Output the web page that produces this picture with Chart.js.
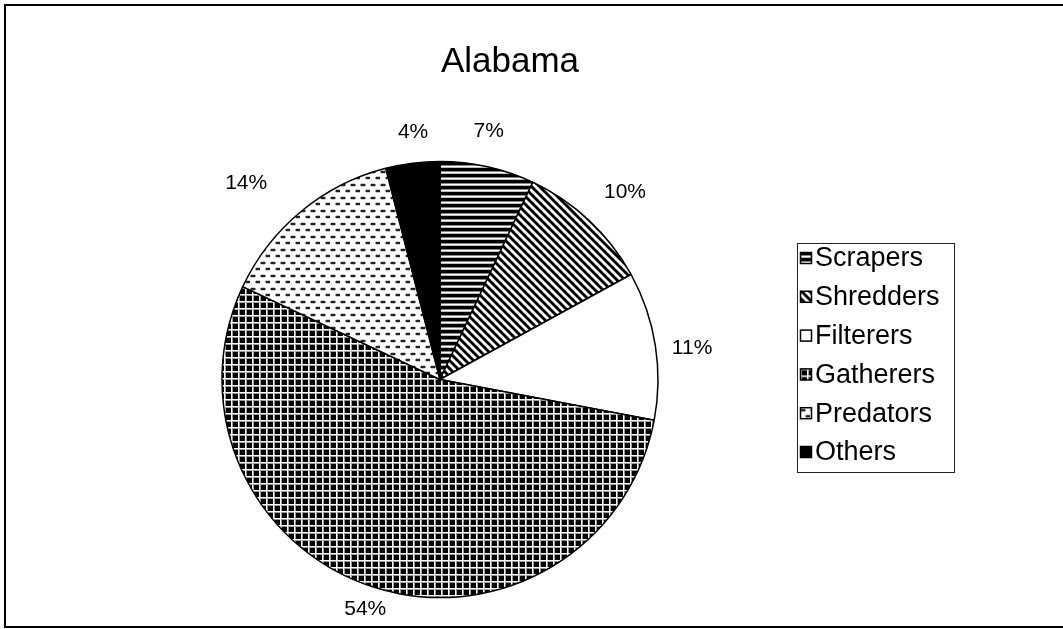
<!DOCTYPE html>
<html>
<head>
<meta charset="utf-8">
<title>Alabama</title>
<script src="https://cdn.jsdelivr.net/npm/chart.js@4.4.1/dist/chart.umd.min.js"></script>
<style>
  html, body { margin: 0; padding: 0; background: #fff; }
  #wrap { position: relative; width: 1063px; height: 629px; overflow: hidden; }
  canvas { display: block; }
</style>
</head>
<body>
<div id="wrap"><canvas id="c" width="1063" height="629"></canvas></div>
<script>
// Functional feeding groups, share of individuals (%)
const chartTitle = 'Alabama';
const categories = ['Scrapers', 'Shredders', 'Filterers', 'Gatherers', 'Predators', 'Others'];
const shares = [7, 10, 11, 54, 14, 4];

// ---- monochrome fill patterns ----
function makeTile(w, h, paint) {
  const c = document.createElement('canvas');
  c.width = w; c.height = h;
  const g = c.getContext('2d');
  g.fillStyle = '#fff';
  g.fillRect(0, 0, w, h);
  paint(g, w, h);
  return c;
}
function px(g, x, y, col) { g.fillStyle = col; g.fillRect(x, y, 1, 1); }

const tiles = {
  hstripes: makeTile(1, 6, (g) => {
    g.fillStyle = '#000'; g.fillRect(0, 0, 1, 3);
    px(g, 0, 3, '#888'); px(g, 0, 5, '#bbb');
  }),
  diagonal: makeTile(8, 8, (g, w, h) => {
    for (let y = 0; y < h; y++) for (let x = 0; x < w; x++) {
      const d = ((x - y) % 8 + 8) % 8;
      if (d < 3) px(g, x, y, '#000');
      else if (d === 3 || d === 7) px(g, x, y, '#777');
    }
  }),
  grid: makeTile(7, 7, (g) => {
    g.fillStyle = '#999'; g.fillRect(1, 1, 6, 1); g.fillRect(1, 1, 1, 6);
    g.fillStyle = '#000'; g.fillRect(2, 2, 5, 5);
  }),
  dashes: makeTile(10, 13, (g) => {
    g.fillStyle = '#222'; g.fillRect(1, 2, 4, 2); g.fillRect(6, 8, 4, 2);
    g.fillStyle = '#999'; g.fillRect(0, 2, 1, 2); g.fillRect(5, 2, 1, 2);
    g.fillRect(5, 8, 1, 2);
    g.fillStyle = '#ccc'; g.fillRect(1, 1, 4, 1); g.fillRect(1, 4, 4, 1);
    g.fillRect(6, 7, 4, 1); g.fillRect(6, 10, 4, 1);
  })
};

const ctx = document.getElementById('c').getContext('2d');
const fills = [
  ctx.createPattern(tiles.hstripes, 'repeat'),
  ctx.createPattern(tiles.diagonal, 'repeat'),
  '#ffffff',
  ctx.createPattern(tiles.grid, 'repeat'),
  ctx.createPattern(tiles.dashes, 'repeat'),
  '#000000'
];

const FONT = '"Liberation Sans", Arial, Helvetica, sans-serif';

// Frame, title, outside percentage labels and the boxed legend
const decorations = {
  id: 'decorations',
  afterDraw(chart, args, opts) {
    const g = chart.ctx;
    g.save();
    // outer frame (open on the right)
    g.strokeStyle = '#000';
    g.lineWidth = 2;
    g.beginPath();
    g.moveTo(1070, 5); g.lineTo(5, 5); g.lineTo(5, 627); g.lineTo(1070, 627);
    g.stroke();

    // title
    g.fillStyle = '#000';
    g.font = '35px ' + FONT;
    g.textAlign = 'center';
    g.textBaseline = 'middle';
    g.fillText(chartTitle, 510, 62);

    // percentage labels, placed outside each slice along its bisector
    const meta = chart.getDatasetMeta(0);
    const vals = chart.data.datasets[0].data;
    const total = vals.reduce((a, b) => a + b, 0);
    g.font = '21px ' + FONT;
    meta.data.forEach((arc, i) => {
      const p = arc.getProps(['x', 'y', 'startAngle', 'endAngle', 'outerRadius'], true);
      const mid = (p.startAngle + p.endAngle) / 2 + opts.labelTurn[i] * Math.PI / 180;
      const txt = Math.round(vals[i] / total * 100) + '%';
      const r = p.outerRadius + opts.labelGap[i];
      g.fillText(txt, p.x + Math.cos(mid) * r, p.y + Math.sin(mid) * r);
    });

    // legend
    const lx = 797, ly = 243, lw = 157, lh = 229;
    g.lineWidth = 1;
    g.strokeStyle = '#222';
    g.strokeRect(lx + 0.5, ly + 0.5, lw, lh);
    g.font = '27px ' + FONT;
    g.textAlign = 'left';
    const bg = chart.data.datasets[0].backgroundColor;
    chart.data.labels.forEach((lab, i) => {
      const cy = 258 + i * 38.8;
      const bx = 800, by = cy - 6, bs = 12;
      g.save();
      g.translate(bx, by);
      g.fillStyle = bg[i];
      g.fillRect(0, 0, bs, bs);
      g.strokeStyle = '#000';
      g.lineWidth = 1.5;
      g.strokeRect(0.5, 0.5, bs - 1, bs - 1);
      g.restore();
      g.fillStyle = '#000';
      g.fillText(lab, 815, cy + 1);
    });
    g.restore();
  }
};

new Chart(ctx, {
  type: 'pie',
  data: {
    labels: categories,
    datasets: [{
      data: shares,
      backgroundColor: fills,
      borderColor: '#000',
      borderWidth: 1.5,
      hoverOffset: 0
    }]
  },
  options: {
    responsive: false,
    animation: false,
    devicePixelRatio: 1,
    radius: 218,
    layout: { padding: { left: 0, right: 183, top: 130, bottom: 0 } },
    plugins: {
      legend: { display: false },
      tooltip: { enabled: false },
      title: { display: false },
      decorations: {
        labelGap: [35, 45, 36, 24, 58, 31],
        labelTurn: [-1.5, 1.5, 2, 0, -5, 1]
      }
    }
  },
  plugins: [decorations]
});
</script>
</body>
</html>
